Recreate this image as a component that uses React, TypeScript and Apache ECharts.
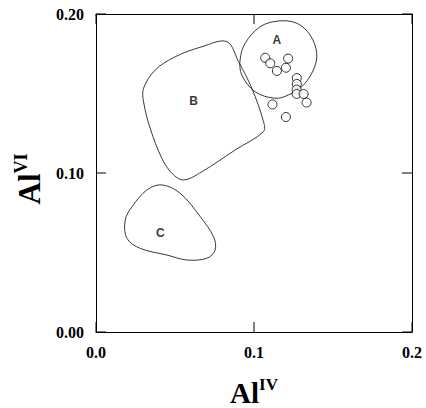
import React, { useEffect, useRef } from "react";
import * as echarts from "echarts";

// Axis ranges and tick values
const xRange = [0, 0.2];
const yRange = [0, 0.2];
const xStep = 0.1;
const yStep = 0.1;
const xTickValues = [0, 0.1, 0.2];
const yTickValues = [0, 0.1, 0.2];

// Analysed samples: [Al(IV), Al(VI)]
const samplePoints: [number, number][] = [
  [0.1071, 0.1725],
  [0.1103, 0.169],
  [0.1145, 0.1642],
  [0.1202, 0.1662],
  [0.1216, 0.172],
  [0.1271, 0.1597],
  [0.1271, 0.156],
  [0.127, 0.1525],
  [0.127, 0.1497],
  [0.1314, 0.1497],
  [0.1333, 0.1443],
  [0.1117, 0.1431],
  [0.1202, 0.1352],
];

// Compositional fields
const envelopeA: [number, number][] = [
  [0.1155, 0.1956],
  [0.1039, 0.192],
  [0.0944, 0.1816],
  [0.0912, 0.1711],
  [0.0923, 0.1616],
  [0.1007, 0.1511],
  [0.1134, 0.147],
  [0.1218, 0.1491],
  [0.1303, 0.1543],
  [0.1376, 0.1648],
  [0.1397, 0.1753],
  [0.1355, 0.1868],
  [0.1271, 0.1942],
];

const envelopeB: [number, number][] = [
  [0.0828, 0.1826],
  [0.067, 0.1794],
  [0.0501, 0.1731],
  [0.0375, 0.1648],
  [0.0301, 0.1533],
  [0.0301, 0.1448],
  [0.0343, 0.1281],
  [0.0417, 0.1092],
  [0.0481, 0.0998],
  [0.0554, 0.0956],
  [0.067, 0.1008],
  [0.0881, 0.1145],
  [0.106, 0.126],
  [0.106, 0.1323],
  [0.0986, 0.1533],
  [0.0902, 0.17],
];

const envelopeC: [number, number][] = [
  [0.0417, 0.0925],
  [0.0322, 0.0893],
  [0.0228, 0.0788],
  [0.0185, 0.0704],
  [0.0196, 0.0589],
  [0.028, 0.0526],
  [0.0449, 0.0484],
  [0.0575, 0.0453],
  [0.0702, 0.0464],
  [0.0754, 0.0516],
  [0.0744, 0.0599],
  [0.066, 0.0725],
  [0.0533, 0.0872],
];

const envelopes = [envelopeA, envelopeB, envelopeC];

const fieldNames = ["A", "B", "C"];
const fieldLabelPositions: [number, number][] = [
  [0.1144, 0.1836],
  [0.0617, 0.1455],
  [0.0407, 0.0621],
];

const serif = "'Liberation Serif', 'DejaVu Serif', serif";
const TICK_LEN = 10;

export default function App() {
  const ref = useRef<HTMLDivElement>(null);

  useEffect(() => {
    document.body.style.margin = "0";
    if (!ref.current) return;
    const chart = echarts.init(ref.current, null, { renderer: "svg" });

    const tickLabel = {
      fontFamily: serif,
      fontWeight: "bold" as const,
      fontSize: 16,
      color: "#000",
    };
    const baseAxis = {
      type: "value" as const,
      splitLine: { show: false },
      axisLine: { show: true, onZero: false, lineStyle: { color: "#000", width: 1 } },
      axisTick: { show: false },
    };

    const titleRich = (size: number, supSize: number) => ({
      a: { fontFamily: serif, fontWeight: "bold" as const, fontSize: size, color: "#000", lineHeight: size + 2, verticalAlign: "bottom" as const },
      b: { fontFamily: serif, fontWeight: "bold" as const, fontSize: supSize, color: "#000", lineHeight: supSize - 3, verticalAlign: "top" as const },
    });

    const tickLine = (x1: number, y1: number, x2: number, y2: number) => ({
      type: "line",
      shape: { x1, y1, x2, y2 },
      style: { stroke: "#000", lineWidth: 1 },
    });

    chart.setOption({
      animation: false,
      backgroundColor: "#fff",
      grid: { left: 96, right: 14, top: 14, height: 318, outerBoundsMode: "none", containLabel: false },
      xAxis: [
        {
          ...baseAxis,
          position: "bottom",
          min: xRange[0],
          max: xRange[1],
          interval: xStep,
          axisLabel: { ...tickLabel, margin: 12, formatter: (v: number) => v.toFixed(1) },
          name: "{a|Al}{b|IV}",
          nameLocation: "middle",
          nameGap: 44,
          nameTextStyle: { rich: titleRich(29, 17) },
        },
        {
          ...baseAxis,
          position: "top",
          min: xRange[0],
          max: xRange[1],
          interval: xStep,
          axisLabel: { show: false },
        },
      ],
      yAxis: [
        {
          ...baseAxis,
          position: "left",
          min: yRange[0],
          max: yRange[1],
          interval: yStep,
          axisLabel: { ...tickLabel, margin: 12, formatter: (v: number) => v.toFixed(2) },
          name: "{a|Al}{b|VI}",
          nameLocation: "middle",
          nameGap: 51,
          nameRotate: 90,
          nameTextStyle: { rich: titleRich(31, 18), padding: [0, 12, 0, 0] },
        },
        {
          ...baseAxis,
          position: "right",
          min: yRange[0],
          max: yRange[1],
          interval: yStep,
          axisLabel: { show: false },
        },
      ],
      series: [
        // inward ticks on the bottom and top edges
        {
          type: "custom",
          silent: true,
          data: xTickValues.map((v) => [v, yRange[0]]),
          renderItem: (params: any, api: any) => {
            const v = api.value(0);
            const [x, yb] = api.coord([v, yRange[0]]);
            const [, yt] = api.coord([v, yRange[1]]);
            return {
              type: "group",
              children: [tickLine(x, yb, x, yb - TICK_LEN), tickLine(x, yt, x, yt + TICK_LEN)],
            };
          },
        },
        // inward ticks on the left and right edges
        {
          type: "custom",
          silent: true,
          data: yTickValues.map((v) => [xRange[0], v]),
          renderItem: (params: any, api: any) => {
            const v = api.value(1);
            const [xl, y] = api.coord([xRange[0], v]);
            const [xr] = api.coord([xRange[1], v]);
            return {
              type: "group",
              children: [tickLine(xl, y, xl + TICK_LEN, y), tickLine(xr, y, xr - TICK_LEN, y)],
            };
          },
        },
        {
          type: "custom",
          silent: true,
          data: envelopes.map((_, i) => [i]),
          encode: { x: -1, y: -1 },
          renderItem: (params: any, api: any) => {
            const pts = envelopes[params.dataIndex].map((p) => api.coord(p));
            return {
              type: "polygon",
              shape: { points: pts, smooth: 0.35 },
              style: { fill: "none", stroke: "#222", lineWidth: 0.9 },
            };
          },
        },
        {
          type: "scatter",
          data: samplePoints,
          symbol: "circle",
          symbolSize: 9,
          itemStyle: { color: "#fff", borderColor: "#000", borderWidth: 1 },
          z: 3,
        },
        {
          type: "scatter",
          data: fieldNames.map((n, i) => ({ name: n, value: fieldLabelPositions[i] })),
          symbolSize: 0,
          label: {
            show: true,
            position: "inside",
            formatter: "{b}",
            fontFamily: "'Liberation Sans', Arial, sans-serif",
            fontWeight: "bold",
            fontSize: 12,
            color: "#000",
          },
          z: 4,
        },
      ],
    });

    return () => chart.dispose();
  }, []);

  return <div ref={ref} style={{ width: 426, height: 408 }} />;
}
